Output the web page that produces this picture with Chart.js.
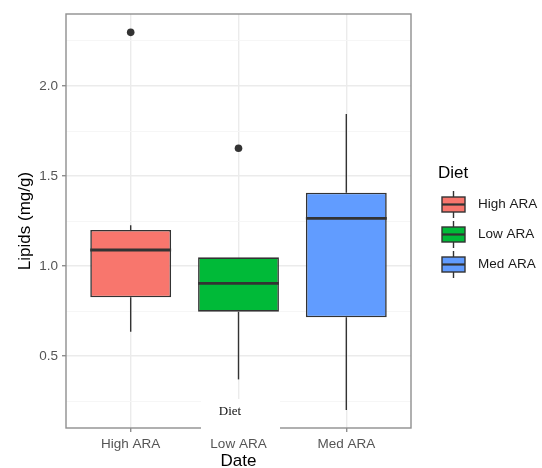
<!DOCTYPE html>
<html>
<head>
<meta charset="utf-8">
<script src="https://cdn.jsdelivr.net/npm/chart.js@4/dist/chart.umd.min.js"></script>
<style>
  html, body { margin: 0; padding: 0; background: #fff; }
  #wrap { width: 542px; height: 468px; }
</style>
</head>
<body>
<div id="wrap"><canvas id="c" width="542" height="468"></canvas></div>
<script>
// Lipid content by diet: box-plot summaries
const diets = ['High ARA', 'Low ARA', 'Med ARA'];
const whiskerLow = [0.635, 0.370, 0.200];
const lowerQuartile = [0.826, 0.746, 0.715];
const medians = [1.089, 0.904, 1.265];
const upperQuartile = [1.200, 1.048, 1.407];
const whiskerHigh = [1.226, 1.048, 1.844];
const outlierDiet = [0, 1];
const outlierValues = [2.298, 1.654];
const yMajorTicks = [0.5, 1.0, 1.5, 2.0];
const yMinorTicks = [0.25, 0.75, 1.25, 1.75, 2.25];

const fills = ['#F8766D', '#00BA38', '#619CFF'];
const ink = '#333333';
const frame = '#8f8f8f';
const sans = '"Liberation Sans", Arial, Helvetica, sans-serif';

const boxes = diets.map((d, i) => ({ x: i, y: [lowerQuartile[i], upperQuartile[i]] }));
const outliers = outlierValues.map((v, i) => ({ x: outlierDiet[i], y: v }));

const boxExtras = {
  id: 'boxExtras',
  beforeDatasetsDraw(chart) {
    // whiskers sit under the boxes
    const { ctx, scales: { x, y } } = chart;
    ctx.save();
    ctx.strokeStyle = ink;
    ctx.lineWidth = 1.4;
    diets.forEach((d, i) => {
      const px = x.getPixelForValue(i);
      ctx.beginPath();
      ctx.moveTo(px, y.getPixelForValue(whiskerHigh[i]));
      ctx.lineTo(px, y.getPixelForValue(upperQuartile[i]));
      ctx.moveTo(px, y.getPixelForValue(lowerQuartile[i]));
      ctx.lineTo(px, y.getPixelForValue(whiskerLow[i]));
      ctx.stroke();
    });
    ctx.restore();
  },
  afterDatasetsDraw(chart) {
    const { ctx, chartArea: a, scales: { y } } = chart;
    const meta = chart.getDatasetMeta(0);
    ctx.save();
    // median bars
    ctx.strokeStyle = ink;
    ctx.lineWidth = 2.8;
    meta.data.forEach((bar, i) => {
      const py = y.getPixelForValue(medians[i]);
      ctx.beginPath();
      ctx.moveTo(bar.x - bar.width / 2, py);
      ctx.lineTo(bar.x + bar.width / 2, py);
      ctx.stroke();
    });
    // panel frame
    ctx.strokeStyle = frame;
    ctx.lineWidth = 1.4;
    ctx.strokeRect(a.left, a.top, a.right - a.left, a.bottom - a.top);
    ctx.restore();
  },
  afterDraw(chart) {
    const { ctx } = chart;
    ctx.save();
    // legend
    ctx.fillStyle = '#000';
    ctx.font = '17px ' + sans;
    ctx.textAlign = 'left';
    ctx.textBaseline = 'middle';
    ctx.fillText('Diet', 438, 173);
    diets.forEach((d, i) => {
      const cy = 204.5 + 30 * i;
      const left = 442, w = 23, h = 15, cx = left + w / 2;
      ctx.strokeStyle = ink;
      ctx.lineWidth = 1.4;
      ctx.beginPath();
      ctx.moveTo(cx, cy - h / 2 - 6); ctx.lineTo(cx, cy - h / 2);
      ctx.moveTo(cx, cy + h / 2); ctx.lineTo(cx, cy + h / 2 + 6);
      ctx.stroke();
      ctx.fillStyle = fills[i];
      ctx.fillRect(left, cy - h / 2, w, h);
      ctx.strokeRect(left, cy - h / 2, w, h);
      ctx.lineWidth = 2.2;
      ctx.beginPath();
      ctx.moveTo(left, cy); ctx.lineTo(left + w, cy);
      ctx.stroke();
      ctx.fillStyle = '#1a1a1a';
      ctx.font = '13.5px ' + sans;
      ctx.fillText(d, 478, cy);
    });
    // caption box over the lower axis
    ctx.fillStyle = '#ffffff';
    ctx.fillRect(201, 399, 79, 35);
    ctx.fillStyle = '#111';
    ctx.font = '13px "Liberation Serif", "Times New Roman", serif';
    ctx.textAlign = 'center';
    ctx.fillText('Diet', 230, 412);
    ctx.restore();
  }
};

new Chart(document.getElementById('c'), {
  type: 'bar',
  data: {
    datasets: [
      {
        type: 'bar',
        data: boxes,
        backgroundColor: fills,
        borderColor: ink,
        borderWidth: 1.6,
        borderSkipped: false,
        categoryPercentage: 1,
        barPercentage: 0.75
      },
      {
        type: 'scatter',
        data: outliers,
        pointRadius: 3.8,
        pointBackgroundColor: ink,
        pointBorderColor: ink,
        pointBorderWidth: 0
      }
    ]
  },
  options: {
    responsive: false,
    animation: false,
    devicePixelRatio: 1,
    layout: { padding: { left: 0, top: 14, right: 131, bottom: 0 } },
    plugins: { legend: { display: false }, tooltip: { enabled: false } },
    scales: {
      x: {
        type: 'linear',
        offset: false,
        min: -0.6,
        max: 2.6,
        afterBuildTicks(s) { s.ticks = diets.map((d, i) => ({ value: i })); },
        afterFit(s) { s.height = 40; },
        border: { display: false },
        grid: { offset: false, color: '#EBEBEB', lineWidth: 1.4, tickLength: 4, tickColor: frame, tickWidth: 1.4 },
        ticks: {
          padding: 4,
          color: '#555',
          font: { family: sans, size: 13.5 },
          callback: v => diets[v] ?? ''
        },
        title: {
          display: true,
          text: 'Date',
          color: '#000',
          font: { family: sans, size: 17, lineHeight: 0.8 },
          padding: 0
        }
      },
      y: {
        min: 0.1,
        max: 2.4,
        afterBuildTicks(s) {
          s.ticks = yMinorTicks.concat(yMajorTicks).sort((a, b) => a - b).map(v => ({ value: v }));
        },
        afterFit(s) { s.width = 66; },
        border: { display: false },
        grid: {
          color: c => yMajorTicks.includes(c.tick.value) ? '#EBEBEB' : '#F5F5F5',
          lineWidth: c => yMajorTicks.includes(c.tick.value) ? 1.4 : 0.9,
          tickLength: 4,
          tickColor: c => yMajorTicks.includes(c.tick.value) ? frame : 'rgba(0,0,0,0)',
          tickWidth: 1.4
        },
        ticks: {
          padding: 4,
          color: '#555',
          font: { family: sans, size: 13.5 },
          callback: v => yMajorTicks.includes(v) ? v.toFixed(1) : ''
        },
        title: {
          display: true,
          text: 'Lipids (mg/g)',
          color: '#000',
          font: { family: sans, size: 17, lineHeight: 1.2 },
          padding: { top: 15, bottom: 0 }
        }
      }
    }
  },
  plugins: [boxExtras]
});
</script>
</body>
</html>
